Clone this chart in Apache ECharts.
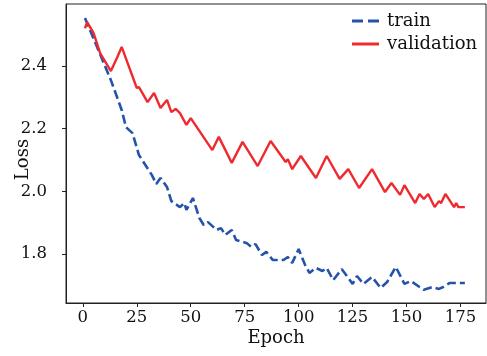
<!DOCTYPE html>
<html>
<head>
<meta charset="utf-8">
<script src="https://cdn.jsdelivr.net/npm/echarts@6/dist/echarts.min.js"></script>
<style>
  html, body { margin: 0; padding: 0; background: #fff; }
  #chart { width: 487px; height: 356px; }
</style>
</head>
<body>
<div id="chart"></div>
<script>
// loss curves as [epoch, loss] vertices
const trainLoss = [
  [1, 2.553], [13, 2.355], [18, 2.260], [20, 2.205], [23, 2.186], [26, 2.116],
  [32, 2.052], [34, 2.024], [36, 2.043], [39, 2.014], [41, 1.969], [45, 1.950],
  [47, 1.963], [48, 1.941], [51, 1.979], [54, 1.915], [56, 1.893], [58, 1.902],
  [62, 1.877], [64, 1.883], [66, 1.861], [69, 1.877], [71, 1.845], [76, 1.835],
  [78, 1.823], [80, 1.832], [83, 1.797], [85, 1.807], [88, 1.781], [91, 1.781],
  [93, 1.781], [95, 1.791], [97, 1.772], [100, 1.816], [103, 1.765], [105, 1.740],
  [108, 1.756], [111, 1.746], [113, 1.756], [116, 1.717], [120, 1.752], [125, 1.705],
  [127, 1.730], [130, 1.705], [134, 1.727], [138, 1.692], [141, 1.711], [145, 1.759],
  [149, 1.705], [152, 1.714], [156, 1.695], [158, 1.686], [162, 1.695], [165, 1.689],
  [167, 1.695], [170, 1.708], [173, 1.708], [177, 1.708]
];
const valLoss = [
  [1, 2.520], [2, 2.540], [5, 2.505], [8, 2.441], [13, 2.384], [16, 2.429],
  [18, 2.461], [25, 2.330], [26, 2.333], [30, 2.285], [33, 2.314], [36, 2.266],
  [39, 2.292], [41, 2.253], [43, 2.263], [45, 2.250], [48, 2.212], [50, 2.234],
  [60, 2.132], [63, 2.174], [69, 2.091], [74, 2.158], [81, 2.081], [87, 2.161],
  [94, 2.094], [95, 2.103], [97, 2.071], [101, 2.113], [108, 2.043], [113, 2.113],
  [119, 2.040], [123, 2.071], [128, 2.011], [134, 2.071], [140, 1.998], [143, 2.027],
  [147, 1.989], [149, 2.020], [154, 1.963], [156, 1.992], [158, 1.976], [160, 1.992],
  [163, 1.950], [165, 1.969], [166, 1.963], [168, 1.992], [172, 1.950], [173, 1.963],
  [174, 1.950], [177, 1.950]
];
const xTicks = [0, 25, 50, 75, 100, 125, 150, 175];
const yTicks = [1.8, 2.0, 2.2, 2.4];
const seriesNames = ['train', 'validation'];

const font = 'DejaVu Serif';
const chart = echarts.init(document.getElementById('chart'));
const option = {
  animation: false,
  backgroundColor: '#fff',
  grid: {
    left: 66, right: 1, top: 4, bottom: 53,
    show: true, borderColor: '#222', borderWidth: 1
  },
  legend: {
    data: [
      { name: seriesNames[0], icon: 'path://M0,0h11v3h-11z M16,0h11v3h-11z' },
      { name: seriesNames[1], icon: 'path://M0,0h27v3h-27z' }
    ],
    orient: 'vertical',
    left: 352, top: 12,
    padding: 0,
    itemWidth: 27, itemHeight: 3, itemGap: 5,
    textStyle: { fontFamily: font, fontSize: 18, color: '#111', padding: [0, 0, 0, 3] }
  },
  xAxis: {
    type: 'value',
    min: -7.8, max: 186.8,
    name: 'Epoch',
    nameLocation: 'middle',
    nameGap: 26,
    nameMoveOverlap: false,
    nameTextStyle: { fontFamily: font, fontSize: 18, color: '#111' },
    axisLine: { show: true, onZero: false, lineStyle: { color: '#222', width: 1 } },
    axisTick: { show: true, customValues: xTicks, length: 4, lineStyle: { color: '#222' } },
    axisLabel: { customValues: xTicks, margin: 6, fontFamily: font, fontSize: 16.5, color: '#111' },
    splitLine: { show: false }
  },
  yAxis: {
    type: 'value',
    min: 1.644, max: 2.598,
    name: 'Loss',
    nameLocation: 'middle',
    nameGap: 34,
    nameMoveOverlap: false,
    nameTextStyle: { fontFamily: font, fontSize: 18, color: '#111', padding: [0, 12, 0, 0] },
    axisLine: { show: true, onZero: false, lineStyle: { color: '#222', width: 1 } },
    axisTick: { show: true, customValues: yTicks, length: 4, lineStyle: { color: '#222' } },
    axisLabel: {
      customValues: yTicks, margin: 19, fontFamily: font, fontSize: 16.5, color: '#111',
      formatter: v => v.toFixed(1)
    },
    splitLine: { show: false }
  },
  series: [
    {
      name: seriesNames[0],
      type: 'line',
      data: trainLoss,
      symbol: 'none',
      color: '#2653aa',
      lineStyle: { width: 2.6, type: [9, 4], color: '#2653aa' }
    },
    {
      name: seriesNames[1],
      type: 'line',
      data: valLoss,
      symbol: 'none',
      color: '#ef2a2e',
      lineStyle: { width: 2.4, color: '#ef2a2e' }
    }
  ]
};
option && chart.setOption(option);
</script>
</body>
</html>
